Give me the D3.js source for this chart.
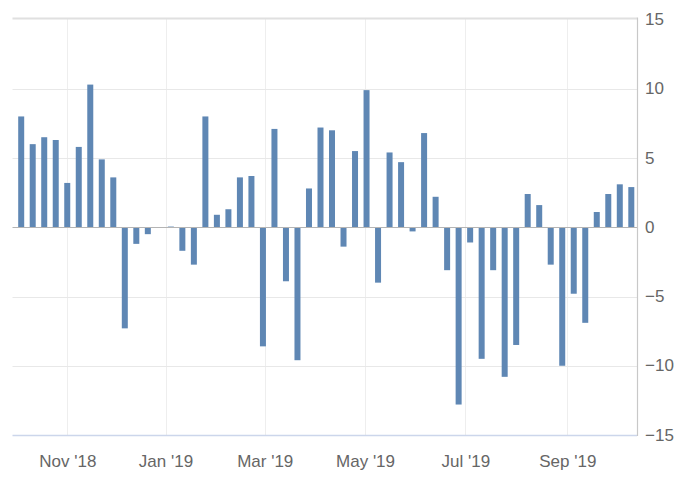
<!DOCTYPE html>
<html>
<head>
<meta charset="utf-8">
<script src="https://cdn.jsdelivr.net/npm/d3@7"></script>
<style>
  html, body { margin: 0; padding: 0; background: #fff; }
  svg { display: block; }
  text { font-family: "Liberation Sans", Arial, sans-serif; }
</style>
</head>
<body>
<svg id="chart" width="689" height="486"></svg>
<script>
// Weekly release dates (EIA crude inventory change, million barrels)
const dates = [
  "2018-09-26","2018-10-03","2018-10-10","2018-10-17","2018-10-24","2018-10-31",
  "2018-11-07","2018-11-14","2018-11-21","2018-11-28","2018-12-06","2018-12-12",
  "2018-12-19","2018-12-28","2019-01-03","2019-01-09","2019-01-16","2019-01-24",
  "2019-01-30","2019-02-06","2019-02-13","2019-02-21","2019-02-27","2019-03-06",
  "2019-03-13","2019-03-20","2019-03-27","2019-04-03","2019-04-10","2019-04-17",
  "2019-04-24","2019-05-01","2019-05-08","2019-05-15","2019-05-22","2019-05-30",
  "2019-06-05","2019-06-12","2019-06-19","2019-06-26","2019-07-03","2019-07-10",
  "2019-07-17","2019-07-24","2019-07-31","2019-08-07","2019-08-14","2019-08-21",
  "2019-08-28","2019-09-04","2019-09-11","2019-09-18","2019-09-25","2019-10-02",
  "2019-10-09"
];
const values = [
  1.9, 8.0, 6.0, 6.5, 6.3, 3.2,
  5.8, 10.3, 4.9, 3.6, -7.3, -1.2,
  -0.5, -0.05, 0.05, -1.7, -2.7, 8.0,
  0.9, 1.3, 3.6, 3.7, -8.6, 7.1,
  -3.9, -9.6, 2.8, 7.2, 7.0, -1.4,
  5.5, 9.9, -4.0, 5.4, 4.7, -0.3,
  6.8, 2.2, -3.1, -12.8, -1.1, -9.5,
  -3.1, -10.8, -8.5, 2.4, 1.6, -2.7,
  -10.0, -4.8, -6.9, 1.1, 2.4, 3.1,
  2.9
];
const xTickDates = ["2018-11-01","2019-01-01","2019-03-01","2019-05-01","2019-07-01","2019-09-01"];
const xTickLabels = ["Nov '18","Jan '19","Mar '19","May '19","Jul '19","Sep '19"];
const yTicks = [-15, -10, -5, 0, 5, 10, 15];

const svg = d3.select("#chart");
const plot = { left: 12.5, right: 637, top: 19.5, bottom: 435 };
const parse = d3.utcParse("%Y-%m-%d");
const t = dates.map(d => +parse(d));

// ordinal positioning: equal spacing per point, interpolated between point dates
const idx = d3.scaleLinear().domain([1, dates.length - 1]).range([21.2, 631.3]);
const x = d3.scaleLinear().domain(t).range(t.map((_, i) => idx(i)));
const y = d3.scaleLinear().domain([-15, 15]).range([plot.bottom, plot.top]);

// vertical grid lines
svg.append("g").selectAll("line").data(xTickDates).join("line")
  .attr("x1", d => Math.round(x(+parse(d)) - 1.5) + 0.5)
  .attr("x2", d => Math.round(x(+parse(d)) - 1.5) + 0.5)
  .attr("y1", 18).attr("y2", plot.bottom)
  .attr("stroke", "#eeeeee").attr("stroke-width", 1);

// horizontal grid lines
svg.append("g").selectAll("line").data(yTicks.filter(v => v !== 0 && v !== -15 && v !== 15)).join("line")
  .attr("x1", plot.left).attr("x2", plot.right)
  .attr("y1", d => Math.round(y(d)) + 0.5).attr("y2", d => Math.round(y(d)) + 0.5)
  .attr("stroke", "#e8e8e8").attr("stroke-width", 1);

// top border / 15 grid
svg.append("line")
  .attr("x1", plot.left).attr("x2", plot.right)
  .attr("y1", 18.5).attr("y2", 18.5)
  .attr("stroke", "#e0e0e0").attr("stroke-width", 2);

// clip for bars
svg.append("clipPath").attr("id", "clip").append("rect")
  .attr("x", 13).attr("y", 0)
  .attr("width", plot.right - 13).attr("height", 486);

const barW = 6;
svg.append("g").attr("clip-path", "url(#clip)")
  .selectAll("rect").data(values).join("rect")
  .attr("x", (d, i) => x(t[i]) - barW / 2)
  .attr("width", barW)
  .attr("y", d => y(Math.max(0, d)))
  .attr("height", d => Math.abs(y(d) - y(0)))
  .attr("fill", "#5f87b4");

// zero line
svg.append("line")
  .attr("x1", plot.left).attr("x2", plot.right)
  .attr("y1", Math.round(y(0)) + 0.5).attr("y2", Math.round(y(0)) + 0.5)
  .attr("stroke", "#b4b4b4").attr("stroke-width", 1);

// bottom axis line
svg.append("line")
  .attr("x1", plot.left).attr("x2", plot.right)
  .attr("y1", 435.5).attr("y2", 435.5)
  .attr("stroke", "#ccd6eb").attr("stroke-width", 1.5);

// right axis line
svg.append("line")
  .attr("x1", 637.5).attr("x2", 637.5)
  .attr("y1", 17.5).attr("y2", 436)
  .attr("stroke", "#c8c8c8").attr("stroke-width", 1.2);

// x axis labels
const xAxis = d3.axisBottom(x)
  .tickValues(xTickDates.map(d => +parse(d)))
  .tickFormat((d, i) => xTickLabels[i])
  .tickSize(0).tickPadding(0);
const gx = svg.append("g").attr("transform", "translate(-1.5,455)").call(xAxis);
gx.select(".domain").remove();
gx.selectAll("text").attr("fill", "#666").attr("font-size", 17)
  .attr("font-family", "'Liberation Sans', Arial, sans-serif")
  .attr("dy", "0.71em");

// y axis labels (right)
const yAxis = d3.axisRight(y).tickValues(yTicks).tickFormat(d3.format("d"))
  .tickSize(0).tickPadding(0);
const gy = svg.append("g").attr("transform", "translate(645,0)").call(yAxis);
gy.select(".domain").remove();
gy.selectAll("text").attr("fill", "#666").attr("font-size", 17)
  .attr("font-family", "'Liberation Sans', Arial, sans-serif")
  .attr("dy", "0.3em");
</script>
</body>
</html>
